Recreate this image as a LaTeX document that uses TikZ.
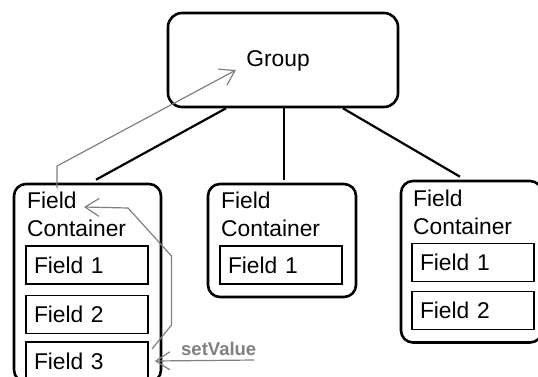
\documentclass[tikz,border=0pt]{standalone}
\usepackage{fontspec}
\setmainfont{Liberation Sans}
\usetikzlibrary{arrows.meta}
\definecolor{arrowgray}{RGB}{128,128,128}
\begin{document}
\begin{tikzpicture}[x=1pt,y=-1pt,
  every node/.style={font=\fontsize{22.8}{27.5}\selectfont},
  groupbox/.style={draw, line width=2.6pt, rounded corners=14pt, minimum width=230pt, minimum height=94pt, inner sep=0pt},
  cont/.style={draw, line width=2.6pt, rounded corners=12pt, inner sep=0pt},
  fieldbox/.style={draw, line width=1.5pt, minimum width=122pt, minimum height=38pt, inner xsep=8pt, inner ysep=0pt, text width=106pt, align=left},
  lbl/.style={anchor=north west, inner sep=0pt, align=left},
  link/.style={line width=2.2pt},
  flow/.style={draw=arrowgray, line width=1.2pt, -{Straight Barb[length=14pt,width=18pt,line width=1.2pt]}},
  flowlbl/.style={text=arrowgray, font=\bfseries\fontsize{18.5}{21}\selectfont, inner sep=0pt, anchor=base west}
]
\useasboundingbox (0,0) rectangle (538,376);
\clip (0,0) rectangle (538,376);
% group
\node[groupbox] (group) at (283,60) {};
\node[inner sep=0pt] (grouptxt) at (278,61) {Group};
% containers
\node[cont, minimum width=147pt, minimum height=198pt] (c1) at (87.5,283) {};
\node[cont, minimum width=148pt, minimum height=113pt] (c2) at (282,240.5) {};
\node[cont, minimum width=141pt, minimum height=161.5pt] (c3) at (471.5,261.75) {};
% labels
\node[lbl] (l1) at (27,192) {Field\\Container};
\node[lbl] (l2) at (221,192) {Field\\Container};
\node[lbl] (l3) at (413,190) {Field\\Container};
% fields
\node[fieldbox] (f11) at (87,265) {Field 1};
\node[fieldbox] (f12) at (87,314.5) {Field 2};
\node[fieldbox] (f13) at (87,361) {Field 3};
\node[fieldbox] (f21) at (281,265) {Field 1};
\node[fieldbox] (f31) at (473,262.5) {Field 1};
\node[fieldbox] (f32) at (473,310.5) {Field 2};
% links
\draw[link] ([xshift=-57pt]group.south) -- ([xshift=8.5pt,yshift=3pt]c1.north);
\draw[link] ([xshift=1pt]group.south) -- ([xshift=2pt,yshift=3pt]c2.north);
\draw[link] ([xshift=60pt]group.south) -- ([xshift=-11.5pt,yshift=3pt]c3.north);
% gray arrows
\coordinate (a1s) at (57,188);
\coordinate (a1m) at (57,166);
\coordinate (a1e) at (236,70);
\draw[flow] (a1s) -- (a1m) -- (a1e);
\coordinate (a2s) at (152,349);
\coordinate (a2b) at (171.5,325);
\coordinate (a2c) at (171.5,256);
\coordinate (a2d) at (128,208);
\coordinate (a2e) at (84,207);
\draw[flow] (a2s) -- (a2b) -- (a2c) -- (a2d) -- (a2e);
\coordinate (a3s) at (254,360);
\draw[flow] (a3s) -- ([xshift=6pt]f13.east);
\node[flowlbl] (sv) at (181,355) {setValue};
\end{tikzpicture}
\end{document}
